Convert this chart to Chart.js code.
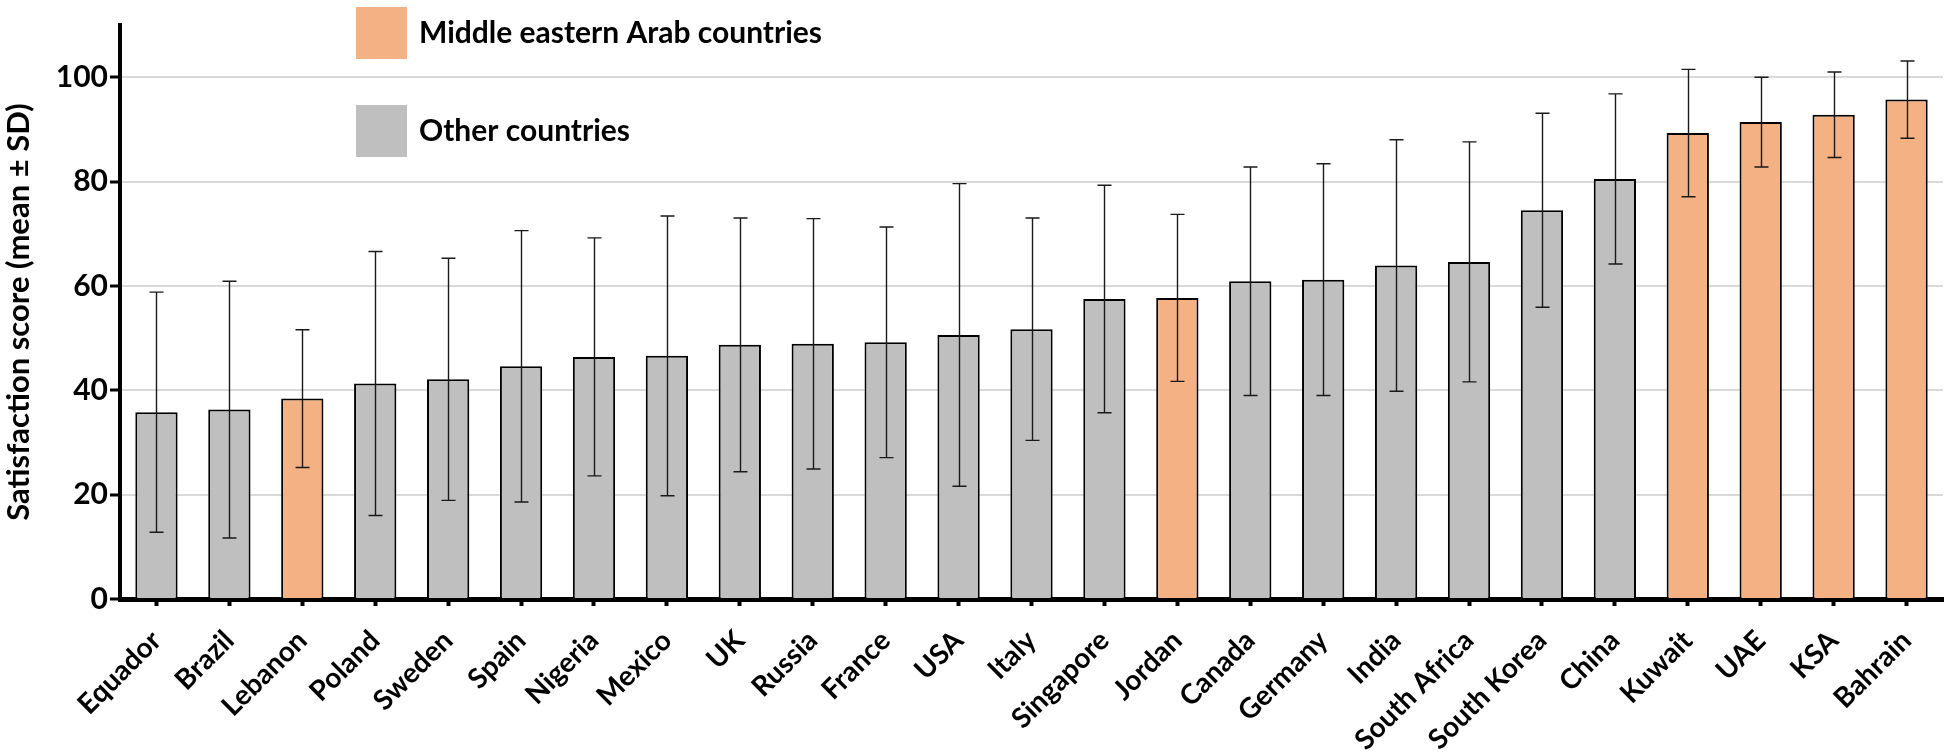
<!DOCTYPE html>
<html>
<head>
<meta charset="utf-8">
<script src="https://cdn.jsdelivr.net/npm/chart.js@4/dist/chart.umd.min.js"></script>
<style>
  html, body { margin: 0; padding: 0; background: #ffffff; }
  #wrap { width: 1950px; height: 754px; position: relative; }
</style>
</head>
<body>
<div id="wrap"><canvas id="c" width="1950" height="754"></canvas></div>
<script>
const categories = ['Equador','Brazil','Lebanon','Poland','Sweden','Spain','Nigeria','Mexico','UK','Russia','France','USA','Italy','Singapore','Jordan','Canada','Germany','India','South Africa','South Korea','China','Kuwait','UAE','KSA','Bahrain'];
const meanScores = [35.8,36.3,38.4,41.3,42.1,44.6,46.4,46.6,48.7,48.9,49.2,50.6,51.7,57.5,57.7,60.9,61.2,63.9,64.6,74.5,80.5,89.3,91.4,92.8,95.7];
const sdScores = [23.0,24.6,13.2,25.3,23.2,26.0,22.8,26.8,24.3,24.0,22.1,29.0,21.3,21.8,16.0,21.9,22.2,24.1,23.0,18.6,16.3,12.2,8.6,8.2,7.4];
const groups = ['other','other','arab','other','other','other','other','other','other','other','other','other','other','other','arab','other','other','other','other','other','other','arab','arab','arab','arab'];
const groupNames = { arab: 'Middle eastern Arab countries', other: 'Other countries' };
const yTicks = [0, 20, 40, 60, 80, 100];
const yMax = 110;

const COLORS = { arab: '#F4B183', other: '#BFBFBF' };
const FONT = 'Lato';

Chart.defaults.font.family = FONT;
Chart.defaults.font.weight = 'bold';
Chart.defaults.font.size = 30;
Chart.defaults.color = '#000000';

const errorBarPlugin = {
  id: 'errorBars',
  afterDatasetsDraw(chart) {
    const ctx = chart.ctx;
    const meta = chart.getDatasetMeta(0);
    const ys = chart.scales.y;
    ctx.save();
    ctx.strokeStyle = '#1a1a1a';
    ctx.lineWidth = 1.4;
    meta.data.forEach((bar, i) => {
      const x = Math.round(bar.x) + 0.5;
      const top = ys.getPixelForValue(meanScores[i] + sdScores[i]);
      const bot = ys.getPixelForValue(meanScores[i] - sdScores[i]);
      const cap = 7;
      ctx.beginPath();
      ctx.moveTo(x, top); ctx.lineTo(x, bot);
      ctx.moveTo(x - cap, top); ctx.lineTo(x + cap, top);
      ctx.moveTo(x - cap, bot); ctx.lineTo(x + cap, bot);
      ctx.stroke();
    });
    ctx.restore();
  }
};

const legendPlugin = {
  id: 'customLegend',
  afterDraw(chart) {
    const ctx = chart.ctx;
    ctx.save();
    const items = [
      { key: 'arab', y: 7 },
      { key: 'other', y: 105 }
    ];
    ctx.font = 'bold 30px ' + FONT;
    ctx.textBaseline = 'middle';
    ctx.textAlign = 'left';
    items.forEach(it => {
      ctx.fillStyle = COLORS[it.key];
      ctx.fillRect(356, it.y, 51, 52);
      ctx.fillStyle = '#000000';
      ctx.fillText(groupNames[it.key], 419, it.y + 26);
    });
    ctx.restore();
  }
};

new Chart(document.getElementById('c'), {
  type: 'bar',
  data: {
    labels: categories,
    datasets: [{
      data: meanScores,
      backgroundColor: groups.map(g => COLORS[g]),
      borderColor: '#000000',
      borderWidth: 2,
      categoryPercentage: 1.0,
      barPercentage: 0.58
    }]
  },
  options: {
    responsive: false,
    animation: false,
    layout: { padding: { top: 25, right: 7, left: 0, bottom: 0 } },
    plugins: {
      legend: { display: false },
      tooltip: { enabled: false }
    },
    scales: {
      x: {
        offset: true,
        border: { display: true, color: '#000000', width: 5 },
        grid: {
          display: true,
          offset: false,
          drawOnChartArea: false,
          drawTicks: true,
          tickLength: 7,
          tickColor: '#000000',
          tickWidth: 4
        },
        ticks: {
          autoSkip: false,
          minRotation: 45,
          maxRotation: 45,
          padding: 18,
          font: { size: 28, weight: 'bold' }
        },
        afterFit(scale) { scale.height = 155; }
      },
      y: {
        min: 0,
        max: yMax,
        border: { display: true, color: '#000000', width: 4 },
        grid: {
          color: '#d9d9d9',
          lineWidth: 2,
          tickColor: '#000000',
          tickWidth: 3,
          tickLength: 10
        },
        ticks: {
          stepSize: 20,
          includeBounds: false,
          padding: 2,
          font: { size: 30, weight: 'bold' },
          callback: (v) => yTicks.includes(v) ? String(v) : ''
        },
        title: {
          display: true,
          text: 'Satisfaction score (mean ± SD)',
          font: { size: 31, weight: 'bold' },
          padding: { top: 0, bottom: 0 }
        },
        afterFit(scale) { scale.width = 120; }
      }
    }
  },
  plugins: [errorBarPlugin, legendPlugin]
});
</script>
</body>
</html>
